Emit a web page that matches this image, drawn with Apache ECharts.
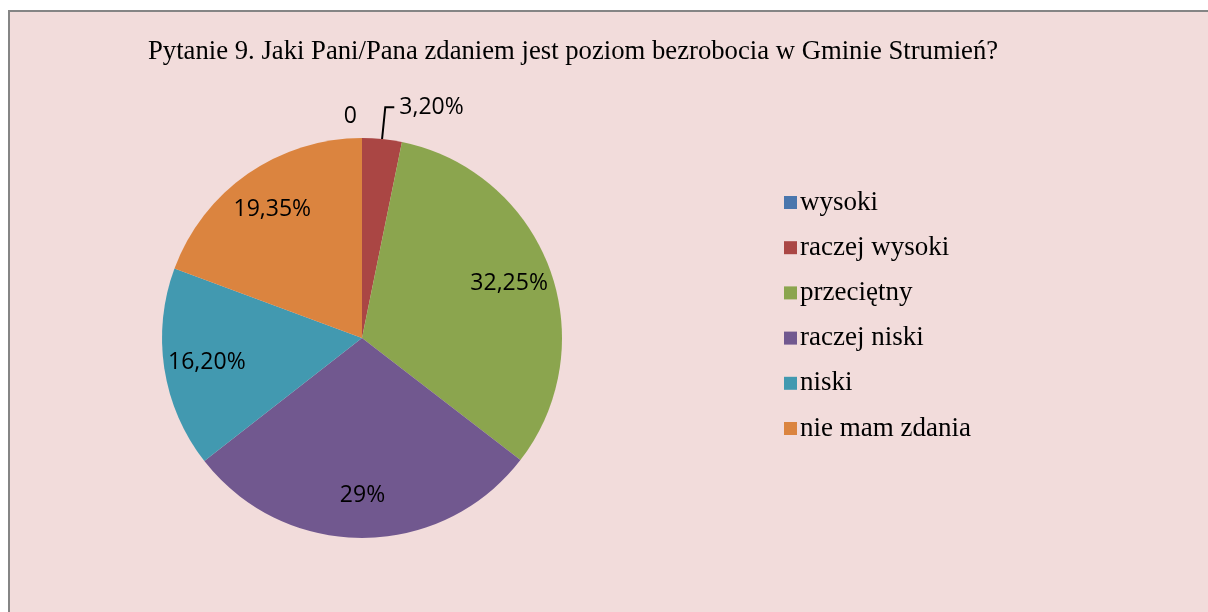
<!DOCTYPE html>
<html>
<head>
<meta charset="utf-8">
<script src="https://cdn.jsdelivr.net/npm/echarts@6/dist/echarts.min.js"></script>
<style>
  html, body { margin: 0; padding: 0; background: #ffffff; }
  #frame { position: absolute; left: 8px; top: 10px; width: 1200px; height: 602px;
           background: #F2DCDB; border-top: 2px solid #858585; border-left: 2px solid #858585; box-sizing: border-box; }
  #main { position: absolute; left: 0; top: 0; width: 1208px; height: 612px; }
</style>
</head>
<body>
<div id="frame"></div>
<div id="main"></div>
<script>
// odpowiedzi i udzialy procentowe
var categories = ['wysoki', 'raczej wysoki', 'przeciętny', 'raczej niski', 'niski', 'nie mam zdania'];
var values = [0, 3.2, 32.25, 29, 16.2, 19.35];
var labelTexts = ['0', '3,20%', '32,25%', '29%', '16,20%', '19,35%'];
var colors = ['#4A76AD', '#AA4644', '#8BA54E', '#71588F', '#4299B0', '#DB843F'];
var outsideIdx = [0, 1];

var chartDom = document.getElementById('main');
var myChart = echarts.init(chartDom);
var option;

var mainData = [];
var labelData = [];
for (var i = 0; i < categories.length; i++) {
  var outside = outsideIdx.indexOf(i) >= 0;
  var item = {
    name: categories[i],
    value: values[i],
    itemStyle: { color: colors[i] },
    label: { show: outside },
    labelLine: { show: outside && values[i] > 0 }
  };
  if (values[i] === 0) {
    item.labelLine.length = 22;
    item.labelLine.length2 = 0;
  }
  mainData.push(item);
  labelData.push({
    name: categories[i],
    value: values[i],
    label: { show: !outside }
  });
}

option = {
  animation: false,
  title: {
    text: 'Pytanie 9. Jaki Pani/Pana zdaniem jest poziom bezrobocia w Gminie Strumień?',
    left: 148,
    top: 38,
    padding: 0,
    textStyle: { fontFamily: 'Liberation Serif', fontSize: 26.7, fontWeight: 'normal', color: '#000' }
  },
  legend: {
    orient: 'vertical',
    left: 784,
    top: 189,
    padding: 0,
    itemWidth: 13,
    itemHeight: 13,
    itemGap: 18.2,
    icon: 'rect',
    data: categories,
    textStyle: { fontFamily: 'Liberation Serif', fontSize: 27, color: '#000', padding: [0, 0, 0, -2] }
  },
  series: [
    {
      name: 'main',
      type: 'pie',
      center: [362, 338],
      radius: 200,
      startAngle: 90,
      avoidLabelOverlap: false,
      silent: true,
      itemStyle: { borderWidth: 0 },
      label: {
        position: 'outside',
        fontFamily: 'Open Sans',
        fontSize: 23,
        color: '#000',
        formatter: function (p) { return labelTexts[p.dataIndex]; }
      },
      labelLine: { length: 32, length2: 9, lineStyle: { color: '#000', width: 2 } },
      data: mainData
    },
    {
      name: 'labels',
      type: 'pie',
      center: [362, 338],
      radius: [108, 200],
      startAngle: 90,
      avoidLabelOverlap: false,
      silent: true,
      itemStyle: { color: 'rgba(0,0,0,0)', borderWidth: 0 },
      label: {
        position: 'inside',
        fontFamily: 'Open Sans',
        fontSize: 23,
        color: '#000',
        formatter: function (p) { return labelTexts[p.dataIndex]; }
      },
      labelLine: { show: false },
      data: labelData
    }
  ]
};

option && myChart.setOption(option);
</script>
</body>
</html>
